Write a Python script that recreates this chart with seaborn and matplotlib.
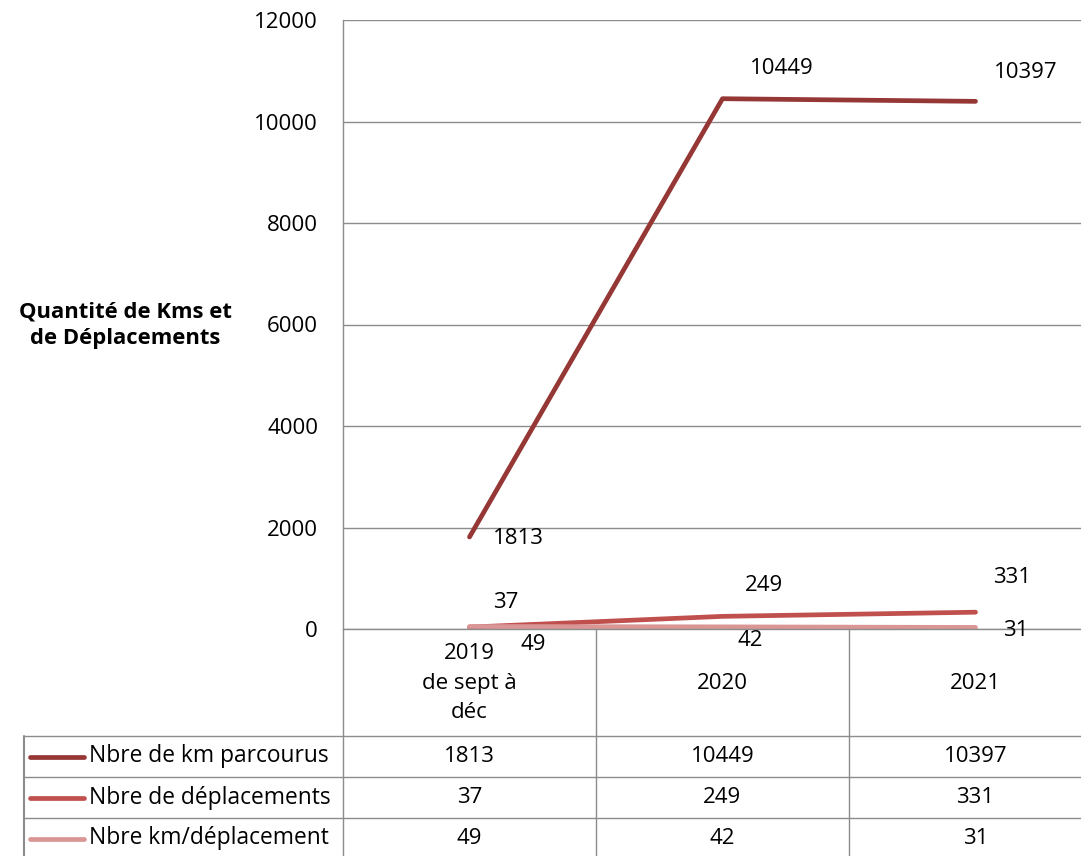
import pandas as pd
import matplotlib.pyplot as plt
import seaborn as sns

categories = ["2019\nde sept à\ndéc", "2020", "2021"]
series_names = ["Nbre de km parcourus", "Nbre de déplacements", "Nbre km/déplacement"]
km_parcourus = [1813, 10449, 10397]
deplacements = [37, 249, 331]
km_par_deplacement = [49, 42, 31]
colors = ["#953735", "#C0504D", "#D99694"]

# label offsets in points (dx, dy) for each series / point
label_offsets = [
    [(17, -1), (20, 22), (13, 21)],
    [(17, 18), (16, 22), (13, 25)],
    [(37, -13), (11, -10), (20, -2)],
]

FONT = "Open Sans"
FS = 16
GRID = "#8c8c8c"


def create_chart():
    sns.set_theme(style="white")
    plt.rcParams['font.family'] = [FONT, 'DejaVu Sans']
    plt.rcParams['text.color'] = 'black'
    plt.rcParams['xtick.color'] = 'black'
    plt.rcParams['ytick.color'] = 'black'

    values = [km_parcourus, deplacements, km_par_deplacement]
    rows = []
    for name, vals in zip(series_names, values):
        for i, v in enumerate(vals):
            rows.append({"x": i, "value": v, "serie": name})
    df = pd.DataFrame(rows)

    W, H = 1081, 856
    fig = plt.figure(figsize=(W / 100, H / 100), dpi=100)
    left, top, bottom = 343, 20, 629
    colw = 253
    ax = fig.add_axes([left / W, 1 - bottom / H, 3 * colw / W, (bottom - top) / H])

    sns.lineplot(data=df, x="x", y="value", hue="serie", palette=colors,
                 hue_order=series_names, linewidth=3.4, legend=False, ax=ax,
                 solid_capstyle="round")

    ax.set_xlim(-0.5, 2.5)
    ax.set_ylim(0, 12000)
    ax.set_yticks(range(0, 12001, 2000))
    ax.yaxis.grid(True, color=GRID, linewidth=1)
    ax.set_axisbelow(True)
    for s in ["top", "right"]:
        ax.spines[s].set_visible(False)
    for s in ["left", "bottom"]:
        ax.spines[s].set_color(GRID)
        ax.spines[s].set_linewidth(1)
    ax.set_xticks(range(3))
    ax.set_xticklabels(categories, fontsize=FS, va="center", linespacing=1.55)
    ax.tick_params(axis="x", length=0, pad=39, colors="black")
    ax.tick_params(axis="y", length=0, pad=18, labelsize=FS, colors="black")
    ax.set_xlabel("")
    ax.set_ylabel("")

    for vals, offs in zip(values, label_offsets):
        for i, (v, off) in enumerate(zip(vals, offs)):
            ax.annotate(str(v), (i, v), xytext=off, textcoords="offset points",
                        ha="left", va="center", fontsize=FS, color="black")

    fig.text(125 / W, 1 - 325 / H, "Quantité de Kms et\nde Déplacements",
             ha="center", va="center", fontsize=15.8, fontweight="bold",
             linespacing=1.35, color="black")

    # data table under the chart
    tax = fig.add_axes([0, 0, 1, 1])
    tax.set_xlim(0, W)
    tax.set_ylim(H, 0)
    tax.axis("off")
    tax.patch.set_facecolor("none")
    row_tops = [736, 777, 818]
    row_h = 41
    tab_left = 24
    for y in row_tops:
        tax.plot([tab_left, W], [y, y], color=GRID, lw=1)
    tax.plot([tab_left, tab_left], [row_tops[0], H], color=GRID, lw=1.5)
    for k in range(3):
        x = left + k * colw
        tax.plot([x, x], [bottom, H], color=GRID, lw=1)
    for r, (name, vals, c) in enumerate(zip(series_names, values, colors)):
        yc = row_tops[r] + row_h / 2
        tax.plot([30, 84], [yc, yc], color=c, lw=3.4, solid_capstyle="round")
        tax.text(89, yc, name, ha="left", va="center", fontsize=16.4, color="black")
        for i, v in enumerate(vals):
            tax.text(left + colw * (i + 0.5), yc, str(v), ha="center",
                     va="center", fontsize=FS, color="black")

    fig.savefig("out.png", dpi=100)


if __name__ == "__main__":
    create_chart()
